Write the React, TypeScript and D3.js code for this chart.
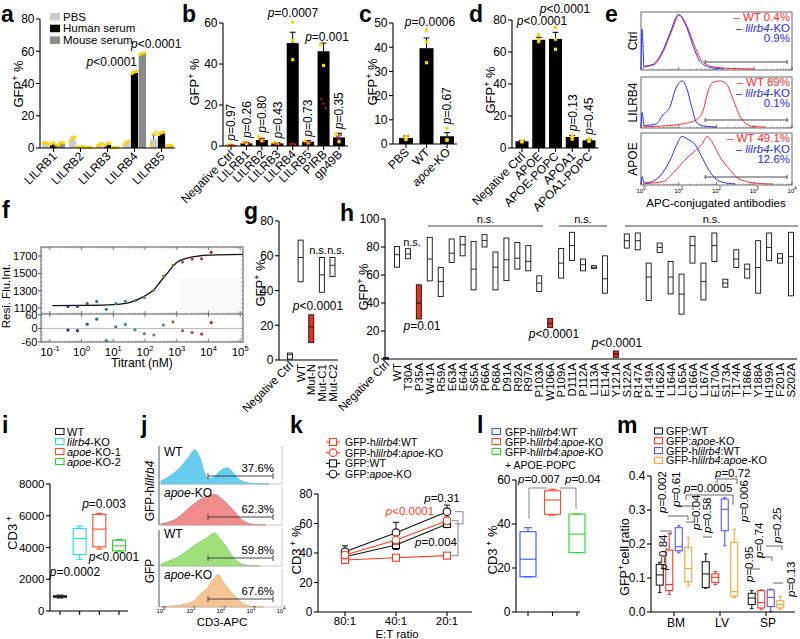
import React from 'react';
import * as d3 from 'd3';

const FONT = "'Liberation Sans', Arial, Helvetica, sans-serif";
const YEL = '#ffd400';
const AX = { stroke: '#000', strokeWidth: 1.1 };
const LETTER = 23;

// ===== a =====
const aCategories = ['LILRB1', 'LILRB2', 'LILRB3', 'LILRB4', 'LILRB5'];
const aSeries = ['PBS', 'Human serum', 'Mouse serum'];
const aPBS = [3, 5.4, 1.5, 3, 5.4];
const aHuman = [2, 0.5, 2, 46.7, 9.1];
const aMouse = [2.8, 0.5, 0.3, 58.3, 1.5];
const aPBSErr = [0.5, 1, 0.6, 0.8, 2.6];
const aHumanErr = [0.4, 0.2, 0.5, 0.8, 0.6];
const aMouseErr = [0.5, 0.2, 0.1, 0.5, 0.4];
const aPBSPts = [[3.2, 3.5, 2.6], [4.5, 6.5, 6.8], [1.2, 2.4, 2.8], [2.2, 3.6, 4.2], [2.2, 8.5, 10]];
const aHumanPts = [[2.5, 3.3, 1.9], [0.6, 0.4, 0.9], [1.6, 2.8, 3.1], [46.2, 47.1, 47.6], [8.4, 9.5, 10]];
const aMousePts = [[2.2, 3.4, 3.1], [0.3, 0.6, 0.2], [0.2, 0.5, 0.4], [58, 58.6, 59], [0.8, 1.6, 1.9]];
const aTicks = [0, 20, 40, 60, 80];

// ===== b =====
const bCategories = ['Negative Ctrl', 'LILRB1', 'LILRB2', 'LILRB3', 'LILRB4', 'LILRB5', 'PIRB', 'gp49B'];
const bValues = [0.3, 1.3, 2.9, 1.3, 50.2, 2.1, 46.2, 4.2];
const bErr = [0.2, 0.4, 0.8, 0.4, 5.3, 0.5, 4, 2];
const bYellow = [[0.5, 0.6], [1.8, 1.2], [4.5, 2.5], [1.6, 1.2], [60.4, 51.4, 42.1], [2.4, 1.5], [49.4, 39.3], [5.9, 2.1]];
const bRed = [[0.4, 0.5, 0.3], [1.5, 1.9, 1.0], [3.2, 3.6, 2.2], [1.3, 1.0, 0.8], [1.0, 1.1, 0.9], [1.7, 1.9, 1.4], [22.8, 20.6, 18.4], [4.6, 3.3, 5.2]];
const bP = ['p=0.97', 'p=0.26', 'p=0.80', 'p=0.43', 'p=0.0007', 'p=0.73', 'p=0.001', 'p=0.35'];
const bTicks = [0, 20, 40, 60];

// ===== c =====
const cCategories = ['PBS', 'WT', '*apoe*-KO'];
const cValues = [2.5, 39.6, 3.2];
const cErr = [0.8, 4.2, 1.5];
const cPts = [[3.2, 1.8, 2.6], [47.2, 42.1, 33.6], [6.5, 1.5, 1.8]];
const cP = ['', 'p=0.0006', 'p=0.67'];
const cTicks = [0, 10, 20, 30, 40, 50];

// ===== d =====
const dCategories = ['Negative Ctrl', 'APOE', 'APOE-POPC', 'APOA1', 'APOA1-POPC'];
const dValues = [4.2, 67.6, 68.2, 6.9, 4.8];
const dErr = [0.5, 1.6, 4.1, 1, 0.6];
const dPts = [[4.1, 3.8, 4.4], [70.7, 67.6, 66.5], [75.5, 68, 61.7], [7.5, 5.5, 6.3], [5.8, 4.2, 4.6]];
const dP = ['', 'p<0.0001', 'p<0.0001', 'p=0.13', 'p=0.45'];
const dTicks = [0, 20, 40, 60, 80];

// ===== e =====
const eRows = ['Ctrl', 'LILRB4', 'APOE'];
const eWTpct = ['0.4%', '89%', '49.1%'];
const eKOpct = ['0.9%', '0.1%', '12.6%'];
const eTicks = [0, 1, 2, 3, 4];
const eCtrlKO = [[0, 0], [0.03, 0.72], [0.08, 0.04], [0.33, 0.09], [0.59, 0.35], [0.77, 0.65], [0.99, 0.98], [1.21, 0.75], [1.39, 0.4], [1.56, 0.14], [1.83, 0.03], [2.2, 0]];
const eCtrlWT = [[0.05, 0], [0.1, 0.05], [0.35, 0.08], [0.6, 0.33], [0.8, 0.66], [1.02, 0.97], [1.24, 0.74], [1.42, 0.42], [1.6, 0.16], [1.9, 0.04], [2.4, 0.01], [3, 0]];
const eLILRB4KO = [[0, 0], [0.03, 0.3], [0.08, 0.03], [0.4, 0.06], [0.58, 0.25], [0.77, 0.42], [0.9, 0.75], [1.08, 0.95], [1.21, 0.8], [1.34, 0.42], [1.47, 0.1], [1.65, 0.02], [2, 0]];
const eLILRB4WT = [[0.05, 0], [0.3, 0.01], [0.77, 0.03], [1.2, 0.08], [1.47, 0.15], [1.65, 0.35], [1.78, 0.75], [1.91, 0.92], [2.09, 0.95], [2.27, 0.88], [2.45, 0.55], [2.62, 0.22], [2.8, 0.06], [2.97, 0.01], [3.3, 0]];
const eAPOEKO = [[0, 0], [0.03, 0.15], [0.08, 0.02], [0.3, 0.05], [0.5, 0.16], [0.77, 0.48], [0.95, 0.8], [1.08, 0.96], [1.25, 0.9], [1.43, 0.8], [1.61, 0.55], [1.78, 0.3], [1.96, 0.12], [2.14, 0.04], [2.5, 0]];
const eAPOEWT = [[0.05, 0], [0.3, 0.02], [0.6, 0.05], [0.86, 0.23], [1.21, 0.52], [1.43, 0.67], [1.61, 0.8], [1.76, 0.96], [1.92, 0.8], [2.09, 0.55], [2.31, 0.33], [2.53, 0.14], [2.8, 0.05], [3.15, 0.01], [3.5, 0]];

// ===== f =====
const fConc = [0.37, 0.74, 1.5, 3, 6, 12, 24, 48, 95, 190, 380, 760, 1525, 3050, 6100, 12200];
const fSignal = [1119, 1119, 1150, 1174, 1085, 1150, 1177, 1185, 1220, 1305, 1468, 1592, 1630, 1665, 1668, 1743];
const fResid = [-7, -10, 19, 41, -54, 7, 18, -6, -23, -29, 15, 29, -10, -18, -25, 26];
const fFitX = [0.12, 1, 10, 30, 100, 200, 300, 500, 800, 1000, 2000, 5000, 10000, 50000, 120000];
const fFitY = [1127, 1130, 1140, 1160, 1240, 1320, 1400, 1500, 1590, 1625, 1672, 1700, 1710, 1717, 1718];
const fTicksU = [1100, 1300, 1500, 1700];
const fTicksL = [-60, 0, 60];
const fDecades = [-1, 0, 1, 2, 3, 4, 5];

// ===== g =====
const gCategories = ['Negative Ctrl', 'WT', 'Mut-N', 'Mut-C1', 'Mut-C2'];
const gMin = [0.5, 45, 10, 39, 48];
const gMedian = [3, 59, 19, 49, 54.5];
const gMax = [4, 69, 26, 59, 59];
const gSignificant = ['Mut-N'];
const gTicks = [0, 20, 40, 60, 80];

// ===== h =====
const hCategories = ['Negative Ctrl', 'WT', 'T30A', 'P35A', 'W41A', 'R59A', 'E63A', 'E64A', 'S65A', 'P66A', 'P68A', 'D91A', 'R92A', 'R97A', 'P103A', 'W106A', 'P109A', 'D111A', 'P112A', 'L113A', 'E114A', 'Y121A', 'S122A', 'R147A', 'P149A', 'H162A', 'L164A', 'L165A', 'C166A', 'L167A', 'E170A', 'S173A', 'T174A', 'T186A', 'Y188A', 'H199A', 'F201A', 'S202A'];
const hMin = [0, 65.6, 71.6, 28.6, 55.8, 44.6, 69, 73.7, 49.4, 80, 49.4, 56, 64.2, 63, 48.2, 22.4, 57.8, 70.4, 63, 64.7, 47, 1.2, 79.2, 78, 41.8, 76.1, 46.5, 32, 68.5, 42.2, 69.7, 51.3, 65.4, 57.8, 47, 70.2, 68.5, 45.1];
const hMedian = [0.5, 74.5, 75, 39.9, 71.4, 55.4, 75.6, 81.6, 64.2, 84.7, 65.6, 70.9, 72, 69.7, 54.2, 25.5, 68.5, 81, 67.3, 65.6, 57.3, 3.6, 84.5, 84.5, 58.5, 79.7, 58.5, 46.3, 81, 55.4, 81, 54.2, 71.4, 64.2, 65.4, 79.7, 72, 73.3];
const hMax = [1, 80.4, 78.8, 53, 86.9, 65.4, 85.7, 87.6, 84, 88.8, 76.4, 86.4, 83.3, 81, 59.4, 29, 79, 90.5, 71.4, 66.6, 73.7, 5.7, 89.3, 90, 68.5, 82.8, 69.7, 60.6, 87.6, 68.5, 90, 57, 78, 67.8, 84.5, 90, 75.2, 90.5];
const hSignificant = ['P35A', 'W106A', 'Y121A'];
const hTicks = [0, 20, 40, 60, 80, 100];

// ===== i =====
const iGroups = ['WT', '*lilrb4*-KO', '*apoe*-KO-1', '*apoe*-KO-2'];
const iMin = [820, 3260, 3900, 3730];
const iQ1 = [860, 3560, 4040, 3790];
const iMed = [920, 4570, 5160, 4100];
const iQ3 = [960, 5200, 6080, 4460];
const iMax = [1000, 5350, 6150, 4500];
const iTicks = [0, 2000, 4000, 6000, 8000];

// ===== j =====
const jRows = ['WT', '*apoe*-KO', 'WT', '*apoe*-KO'];
const jPct = ['37.6%', '62.3%', '59.8%', '67.6%'];
const jHWT = [[0, 0.08], [0.3, 0.22], [0.63, 0.45], [0.9, 0.72], [1.13, 0.95], [1.3, 0.72], [1.47, 0.27], [1.63, 0.15], [1.8, 0.22], [2.03, 0.4], [2.2, 0.45], [2.37, 0.35], [2.57, 0.15], [2.8, 0.05], [3.13, 0.01], [3.6, 0]];
const jHKO = [[0, 0.03], [0.53, 0.18], [0.97, 0.5], [1.4, 0.75], [1.8, 0.85], [2.03, 0.72], [2.3, 0.5], [2.53, 0.3], [2.73, 0.12], [3.07, 0.02], [3.5, 0]];
const jWT = [[0, 0.05], [0.2, 0.12], [0.63, 0.28], [1.03, 0.52], [1.2, 0.62], [1.47, 0.75], [1.8, 0.92], [1.97, 0.75], [2.2, 0.5], [2.4, 0.25], [2.63, 0.08], [2.87, 0.02], [3.3, 0]];
const jKO = [[0, 0.01], [0.63, 0.05], [1.07, 0.15], [1.3, 0.35], [1.57, 0.55], [1.73, 0.75], [1.9, 0.9], [2.07, 0.7], [2.3, 0.45], [2.53, 0.25], [2.73, 0.1], [3.03, 0.02], [3.4, 0]];
const jTicks = [0, 1, 2, 3, 4];

// ===== k =====
const kRatios = ['80:1', '40:1', '20:1'];
const kHWT = [35.3, 36.8, 38.2];
const kHKO = [38.6, 48.8, 61.9];
const kWT = [37.5, 45.4, 59.7];
const kKO = [40.9, 53.8, 68];
const kHWTErr = [1.5, 1, 1];
const kHKOErr = [2, 3, 2.5];
const kWTErr = [2, 3, 2.5];
const kKOErr = [4, 7, 4.5];
const kTicks = [0, 20, 40, 60, 80];

// ===== l =====
const lGroups = ['GFP-h*lilrb4*:WT', 'GFP-h*lilrb4*:*apoe*-KO', 'GFP-h*lilrb4*:*apoe*-KO'];
const lMin = [16, 44, 27];
const lQ1 = [16, 44.4, 27];
const lMed = [24, 50.9, 35.4];
const lQ3 = [36.5, 55.1, 44.5];
const lMax = [38.3, 55.8, 44.5];
const lTicks = [0, 20, 40, 60];

// ===== m =====
const mTissues = ['BM', 'LV', 'SP'];
const mSeries = ['GFP:WT', 'GFP:*apoe*-KO', 'GFP-h*lilrb4*:WT', 'GFP-h*lilrb4*:*apoe*-KO'];
const mWT = [[0.057, 0.079, 0.109, 0.140, 0.146], [0.070, 0.072, 0.112, 0.148, 0.171], [0.010, 0.022, 0.041, 0.055, 0.063]];
const mKO = [[0.052, 0.063, 0.081, 0.182, 0.231], [0.081, 0.087, 0.102, 0.112, 0.119], [0.008, 0.012, 0.028, 0.063, 0.065]];
const mHWT = [[0.174, 0.180, 0.192, 0.248, 0.254], [0.195, 0.239, 0.302, 0.332, 0.336], [0.002, 0.016, 0.043, 0.065, 0.067]];
const mHKO = [[0.077, 0.089, 0.128, 0.190, 0.220], [0.043, 0.047, 0.060, 0.205, 0.243], [0.008, 0.012, 0.022, 0.033, 0.045]];
const mTicks = [0, 0.1, 0.2, 0.3, 0.4];

// ---------- helpers ----------
function Rich({ s }: { s: string }) {
  const parts = s.split('*');
  return <>{parts.map((p, i) => (i % 2 ? <tspan key={i} fontStyle="italic">{p}</tspan> : <tspan key={i}>{p}</tspan>))}</>;
}
function P({ s }: { s: string }) {
  return <><tspan fontStyle="italic">p</tspan><tspan>{s.slice(1)}</tspan></>;
}
function YAxis({ x, y, ticks, fmt, fs = 12, tick = 4 }: any) {
  const [r0, r1] = y.range();
  const f = fmt || ((d: number) => String(d));
  return (
    <g>
      <line x1={x} x2={x} y1={r0} y2={r1} {...AX} />
      {ticks.map((t: number) => (
        <g key={t}>
          <line x1={x - tick} x2={x} y1={y(t)} y2={y(t)} {...AX} />
          <text x={x - tick - 1.5} y={y(t)} dy="0.36em" textAnchor="end" fontSize={fs}>{f(t)}</text>
        </g>
      ))}
    </g>
  );
}
function VText({ x, y, anchor = 'middle', fs = 12, fill = '#000', children }: any) {
  return <text transform={`translate(${x},${y}) rotate(-90)`} textAnchor={anchor} fontSize={fs} fill={fill}>{children}</text>;
}
function DText({ x, y, fs = 12, children }: any) {
  return <text transform={`translate(${x},${y}) rotate(-45)`} textAnchor="end" fontSize={fs}>{children}</text>;
}
const gfpPct = <>GFP<tspan dy={-5} fontSize={9}>+</tspan><tspan dy={5}> %</tspan></>;
const cd3Pct = <>CD3<tspan dy={-5} fontSize={9}> +</tspan><tspan dy={5}> %</tspan></>;
function Pow({ x, y, e, fs = 12, sfs = 8 }: any) {
  return <text x={x} y={y} textAnchor="middle" fontSize={fs}>10<tspan dy={-fs * 0.42} fontSize={sfs}>{e}</tspan></text>;
}

// ---------- panels ----------
function PanelA() {
  const x0 = d3.scaleBand().domain(aCategories).range([40, 175]);
  const x1 = d3.scaleBand().domain(aSeries).range([2, 25]).paddingInner(0.08);
  const y = d3.scaleLinear().domain([0, 80]).range([148, 19]);
  const vals = [aPBS, aHuman, aMouse];
  const errs = [aPBSErr, aHumanErr, aMouseErr];
  const pts = [aPBSPts, aHumanPts, aMousePts];
  const cols = ['#cdcdcd', '#000', '#8a8a8a'];
  const bw = x1.bandwidth();
  return (
    <g>
      <text x={1} y={21.5} fontSize={LETTER} fontWeight="bold">a</text>
      {aCategories.map((c, i) => aSeries.map((s, j) => {
        const bx = (x0(c) as number) + (x1(s) as number);
        const cx = bx + bw / 2;
        const v = vals[j][i], e = errs[j][i];
        return (
          <g key={c + s}>
            <rect x={bx} y={y(v)} width={bw} height={y(0) - y(v)} fill={cols[j]} />
            <line x1={cx} x2={cx} y1={y(v)} y2={y(v + e)} stroke="#000" strokeWidth={0.8} />
            <line x1={cx - 2} x2={cx + 2} y1={y(v + e)} y2={y(v + e)} stroke="#000" strokeWidth={0.8} />
            {pts[j][i].map((p, k) => <circle key={k} cx={cx + (k - 1) * 2.4} cy={y(p)} r={1.7} fill={YEL} />)}
          </g>
        );
      }))}
      <YAxis x={40} y={y} ticks={aTicks} />
      <line x1={40} x2={175} y1={y(0)} y2={y(0)} {...AX} />
      {aCategories.map((c) => {
        const cx = (x0(c) as number) + x0.bandwidth() / 2;
        return (
          <g key={c}>
            <line x1={cx} x2={cx} y1={y(0)} y2={y(0) + 4} {...AX} />
            <DText x={cx + 4} y={y(0) + 9}>{c}</DText>
          </g>
        );
      })}
      <VText x={23} y={84} fs={13}>{gfpPct}</VText>
      {aSeries.map((s, j) => (
        <g key={s}>
          <rect x={50} y={13 + j * 11.7} width={10} height={7.5} fill={cols[j]} />
          <text x={63} y={20.5 + j * 11.7} fontSize={11.5}>{s}</text>
        </g>
      ))}
      <text x={137} y={66} textAnchor="end" fontSize={12}><P s="p<0.0001" /></text>
      <text x={131} y={48} fontSize={12}><P s="p<0.0001" /></text>
    </g>
  );
}

function BarPanel({ cats, vals, errs, yellow, red, pvals, ticks, domainMax, axisX, xr, bw, yr, letter, letterX, ylabX, ylabY, horiz }: any) {
  const x = d3.scalePoint().domain(cats).range(xr);
  const y = d3.scaleLinear().domain([0, domainMax]).range(yr);
  return (
    <g>
      <text x={letterX} y={21.5} fontSize={LETTER} fontWeight="bold">{letter}</text>
      {cats.map((c: string, i: number) => {
        const cx = x(c) as number;
        const v = vals[i], e = errs[i];
        const top = Math.max(v + e, ...(yellow[i] || []), ...((red && red[i]) || []));
        const ph = horiz[i];
        return (
          <g key={c}>
            <rect x={cx - bw / 2} y={y(v)} width={bw} height={y(0) - y(v)} fill="#000" />
            <line x1={cx} x2={cx} y1={y(v)} y2={y(v + e)} stroke="#000" strokeWidth={1} />
            <line x1={cx - 3} x2={cx + 3} y1={y(v + e)} y2={y(v + e)} stroke="#000" strokeWidth={1} />
            {(yellow[i] || []).map((p: number, k: number) => <rect key={k} x={cx - 1.6 + (k - 1) * 3 * (yellow[i].length > 2 ? 0 : 1)} y={y(p) - 1.6} width={3.2} height={3.2} fill={YEL} />)}
            {red ? red[i].map((p: number, k: number) => <circle key={'r' + k} cx={cx + (k - 1) * 2.2} cy={y(p)} r={1} fill="#ff1a1a" />) : null}
            {pvals[i] && !ph ? <VText x={cx + 4.3} y={y(top) - 4} anchor="start" fs={12}><P s={pvals[i]} /></VText> : null}
            {pvals[i] && ph ? <text x={ph[0]} y={ph[1]} textAnchor="middle" fontSize={12}><P s={pvals[i]} /></text> : null}
          </g>
        );
      })}
      <YAxis x={axisX} y={y} ticks={ticks} />
      <line x1={axisX} x2={xr[1] + bw / 2 + 3} y1={y(0)} y2={y(0)} {...AX} />
      {cats.map((c: string) => {
        const cx = x(c) as number;
        return (
          <g key={c}>
            <line x1={cx} x2={cx} y1={y(0)} y2={y(0) + 4} {...AX} />
            <DText x={cx + 4} y={y(0) + 9}><Rich s={c} /></DText>
          </g>
        );
      })}
      <VText x={ylabX} y={ylabY} fs={13}>{gfpPct}</VText>
    </g>
  );
}

function PanelE() {
  const x = d3.scaleLinear().domain([0, 4]).range([641, 792]);
  const rows = [[12, 70], [77, 128], [133, 185]];
  const ko = [eCtrlKO, eLILRB4KO, eAPOEKO];
  const wt = [eCtrlWT, eLILRB4WT, eAPOEWT];
  const RED = '#ff2a2a', BLUE = '#2a2aff';
  const minors: number[] = [];
  [0, 1, 2, 3].forEach((d) => [2, 3, 4, 5, 6, 7, 8, 9].forEach((k) => minors.push(d + Math.log10(k))));
  return (
    <g>
      <text x={605} y={21.5} fontSize={LETTER} fontWeight="bold">e</text>
      {rows.map(([t, b], r) => {
        const y = d3.scaleLinear().domain([0, 1]).range([b - 1, t + 1.5]);
        const line = d3.line().x((d: any) => x(d[0])).y((d: any) => y(d[1])).curve(d3.curveMonotoneX);
        const gy = b - 8;
        return (
          <g key={r}>
            <rect x={641} y={t} width={151} height={b - t} fill="#fff" stroke="#444" strokeWidth={0.8} />
            <path d={line(wt[r] as any) || ''} fill="none" stroke={RED} strokeWidth={1} />
            <path d={line(ko[r] as any) || ''} fill="none" stroke={BLUE} strokeWidth={1} />
            <line x1={x(1.7)} x2={x(3.87)} y1={gy} y2={gy} stroke="#333" strokeWidth={0.9} />
            <line x1={x(1.7)} x2={x(1.7)} y1={gy - 2} y2={gy + 2} stroke="#333" strokeWidth={0.9} />
            <line x1={x(3.87)} x2={x(3.87)} y1={gy - 2} y2={gy + 2} stroke="#333" strokeWidth={0.9} />
            {eTicks.map((d) => <line key={d} x1={x(d)} x2={x(d)} y1={b} y2={b - 3} stroke="#444" strokeWidth={0.7} />)}
            {minors.map((d, k) => <line key={'m' + k} x1={x(d)} x2={x(d)} y1={b} y2={b - 1.5} stroke="#444" strokeWidth={0.5} />)}
            <text x={790} y={t + 9} textAnchor="end" fontSize={11.5} fill={RED}>– WT {eWTpct[r]}</text>
            <text x={790} y={t + 19.5} textAnchor="end" fontSize={11.5} fill={BLUE}>– <tspan fontStyle="italic">lilrb4</tspan>-KO</text>
            <text x={790} y={t + 30} textAnchor="end" fontSize={11.5} fill={BLUE}>{eKOpct[r]}</text>
            <VText x={636.5} y={(t + b) / 2} fs={12}>{eRows[r]}</VText>
          </g>
        );
      })}
      {eTicks.map((d) => <Pow key={d} x={x(d)} y={193} e={d} fs={6} sfs={4.5} />)}
      <text x={716} y={207} textAnchor="middle" fontSize={11.5}>APC-conjugated antibodies</text>
    </g>
  );
}

function PanelF() {
  const x = d3.scaleLog().domain([Math.pow(10, -1.28), Math.pow(10, 5.09)]).range([41, 243]);
  const yU = d3.scaleLinear().domain([1031, 1804]).range([314, 247]);
  const yL = d3.scaleLinear().domain([-60, 64]).range([342, 314]);
  const color = d3.scaleSequential(d3.interpolateRgbBasis(['#3a1e9a', '#2a5fb0', '#2a8f9a', '#3f9a6a', '#7f8a4a', '#a05a3a', '#c81818'])).domain([0, fConc.length - 1]);
  const fit = fFitX.map((v, i) => [v, fFitY[i]]);
  const line = d3.line().x((d: any) => x(d[0])).y((d: any) => yU(d[1])).curve(d3.curveMonotoneX);
  const minors: number[] = [];
  [-2, -1, 0, 1, 2, 3, 4, 5].forEach((d) => [2, 3, 4, 5, 6, 7, 8, 9].forEach((k) => {
    const v = k * Math.pow(10, d);
    if (v > Math.pow(10, -1.28) && v < Math.pow(10, 5.09)) minors.push(v);
  }));
  const uMin = d3.range(1050, 1800, 50);
  const lMin = d3.range(-60, 64, 15);
  return (
    <g>
      <text x={2} y={218} fontSize={LETTER} fontWeight="bold">f</text>
      <rect x={181} y={277} width={61} height={36} fill="#f9f9f9" />
      <rect x={41} y={247} width={202} height={95} fill="none" stroke="#555" strokeWidth={1} />
      <line x1={41} x2={243} y1={314} y2={314} stroke="#555" strokeWidth={1} />
      <line x1={41} x2={243} y1={yL(0)} y2={yL(0)} stroke="#aaa" strokeWidth={0.8} />
      {fDecades.map((d) => {
        const px = x(Math.pow(10, d));
        return (
          <g key={d}>
            {[247, 314].map((yy) => <line key={yy} x1={px} x2={px} y1={yy} y2={yy + 3} stroke="#555" strokeWidth={0.8} />)}
            {[314, 342].map((yy) => <line key={'b' + yy} x1={px} x2={px} y1={yy} y2={yy - 3} stroke="#555" strokeWidth={0.8} />)}
            <Pow x={px} y={356} e={d} fs={11.5} sfs={7.5} />
          </g>
        );
      })}
      {minors.map((v, k) => (
        <g key={k}>
          <line x1={x(v)} x2={x(v)} y1={247} y2={248.5} stroke="#777" strokeWidth={0.5} />
          <line x1={x(v)} x2={x(v)} y1={342} y2={340.5} stroke="#777" strokeWidth={0.5} />
          <line x1={x(v)} x2={x(v)} y1={314} y2={312.5} stroke="#777" strokeWidth={0.5} />
        </g>
      ))}
      {uMin.map((v) => <g key={v}><line x1={41} x2={43} y1={yU(v)} y2={yU(v)} stroke="#777" strokeWidth={0.5} /><line x1={243} x2={241} y1={yU(v)} y2={yU(v)} stroke="#777" strokeWidth={0.5} /></g>)}
      {lMin.map((v) => <g key={v}><line x1={41} x2={43} y1={yL(v)} y2={yL(v)} stroke="#777" strokeWidth={0.5} /><line x1={243} x2={241} y1={yL(v)} y2={yL(v)} stroke="#777" strokeWidth={0.5} /></g>)}
      {fTicksU.map((t) => (
        <g key={t}>
          <line x1={38} x2={41} y1={yU(t)} y2={yU(t)} stroke="#555" />
          <text x={37.5} y={yU(t)} dy="0.36em" textAnchor="end" fontSize={11}>{t}</text>
        </g>
      ))}
      {fTicksL.map((t) => (
        <g key={t}>
          <line x1={38} x2={41} y1={yL(t)} y2={yL(t)} stroke="#555" />
          <text x={37.5} y={yL(t)} dy="0.36em" textAnchor="end" fontSize={11}>{t}</text>
        </g>
      ))}
      <path d={line(fit as any) || ''} fill="none" stroke="#111" strokeWidth={1.3} />
      {fConc.map((c, i) => <circle key={i} cx={x(c)} cy={yU(fSignal[i])} r={1.6} fill={color(i)} />)}
      {fConc.map((c, i) => <circle key={'r' + i} cx={x(c)} cy={yL(fResid[i])} r={1.6} fill={color(i)} />)}
      <text x={142} y={367} textAnchor="middle" fontSize={12}>Titrant (nM)</text>
      <VText x={9.5} y={296} fs={11.5}>Resi.  Flu.Int.</VText>
    </g>
  );
}

function FloatBars({ cats, mins, meds, maxs, sig, xr, yScale, bw }: any) {
  const x = d3.scalePoint().domain(cats).range(xr);
  return (
    <g>
      {cats.map((c: string, i: number) => {
        const cx = x(c) as number;
        const red = sig.includes(c);
        const h = Math.max(yScale(mins[i]) - yScale(maxs[i]), 1.5);
        return (
          <g key={c}>
            <rect x={cx - bw / 2} y={yScale(maxs[i])} width={bw} height={h} fill={red ? '#e8321c' : '#fff'} stroke="#111" strokeWidth={0.9} />
            <line x1={cx - bw / 2} x2={cx + bw / 2} y1={yScale(meds[i])} y2={yScale(meds[i])} stroke="#111" strokeWidth={0.9} />
          </g>
        );
      })}
    </g>
  );
}

function CatLabels({ cats, xr, y0 }: any) {
  const x = d3.scalePoint().domain(cats).range(xr);
  return (
    <g>
      {cats.map((c: string, i: number) => {
        const cx = x(c) as number;
        return i === 0
          ? <DText key={c} x={cx + 4} y={y0 + 6} fs={11.5}>{c}</DText>
          : <VText key={c} x={cx + 4.2} y={y0 + 4} anchor="end" fs={11.5}>{c}</VText>;
      })}
    </g>
  );
}

function PanelG() {
  const y = d3.scaleLinear().domain([0, 80]).range([360, 221]);
  const xr = [290, 332.5];
  return (
    <g>
      <text x={244} y={219} fontSize={LETTER} fontWeight="bold">g</text>
      <FloatBars cats={gCategories} mins={gMin} meds={gMedian} maxs={gMax} sig={gSignificant} xr={xr} yScale={y} bw={5} />
      <YAxis x={279} y={y} ticks={gTicks} />
      <line x1={279} x2={338} y1={360} y2={360} {...AX} />
      <CatLabels cats={gCategories} xr={xr} y0={360} />
      <VText x={265} y={283} fs={13}>{gfpPct}</VText>
      <text x={318} y={254} textAnchor="middle" fontSize={11}>n.s.</text>
      <text x={336} y={254} textAnchor="middle" fontSize={11}>n.s.</text>
      <text x={318} y={310} textAnchor="middle" fontSize={12}><P s="p<0.0001" /></text>
    </g>
  );
}

function PanelH() {
  const y = d3.scaleLinear().domain([0, 100]).range([359, 219]);
  const xr = [386, 791];
  return (
    <g>
      <text x={340} y={221} fontSize={LETTER} fontWeight="bold">h</text>
      <FloatBars cats={hCategories} mins={hMin} meds={hMedian} maxs={hMax} sig={hSignificant} xr={xr} yScale={y} bw={5} />
      <YAxis x={385} y={y} ticks={hTicks} />
      <line x1={385} x2={797} y1={359} y2={359} {...AX} />
      <CatLabels cats={hCategories} xr={xr} y0={359} />
      <VText x={368} y={287} fs={13}>{gfpPct}</VText>
      <text x={412} y={246} textAnchor="middle" fontSize={11}>n.s.</text>
      {[[428, 543], [559, 607], [625, 798]].map(([a, b]) => (
        <g key={a}>
          <line x1={a} x2={b} y1={226} y2={226} stroke="#333" strokeWidth={0.9} />
          <text x={(a + b) / 2} y={222.5} textAnchor="middle" fontSize={11}>n.s.</text>
        </g>
      ))}
      <text x={422} y={330} textAnchor="middle" fontSize={12}><P s="p=0.01" /></text>
      <text x={554} y={338} textAnchor="middle" fontSize={12}><P s="p<0.0001" /></text>
      <text x={617} y={347} textAnchor="middle" fontSize={12}><P s="p<0.0001" /></text>
    </g>
  );
}

function Box({ cx, w, y, s, color }: any) {
  const [mn, q1, md, q3, mx] = s;
  return (
    <g stroke={color} strokeWidth={1.1} fill="none">
      <rect x={cx - w / 2} y={y(q3)} width={w} height={Math.max(y(q1) - y(q3), 0.5)} />
      <line x1={cx - w / 2} x2={cx + w / 2} y1={y(md)} y2={y(md)} />
      <line x1={cx} x2={cx} y1={y(q3)} y2={y(mx)} />
      <line x1={cx} x2={cx} y1={y(q1)} y2={y(mn)} />
      <line x1={cx - w / 4} x2={cx + w / 4} y1={y(mx)} y2={y(mx)} />
      <line x1={cx - w / 4} x2={cx + w / 4} y1={y(mn)} y2={y(mn)} />
    </g>
  );
}

function PanelI() {
  const x = d3.scalePoint().domain(iGroups).range([60, 119]);
  const y = d3.scaleLinear().domain([0, 8000]).range([611, 484]);
  const cols = ['#222', '#22dde8', '#ff4a2a', '#2ad52a'];
  return (
    <g>
      <text x={2} y={433} fontSize={LETTER} fontWeight="bold">i</text>
      {iGroups.map((g, i) => (
        <g key={g}>
          <rect x={55.5} y={428.5 + i * 10} width={8.5} height={6} fill="none" stroke={cols[i]} strokeWidth={1.1} />
          <text x={67} y={436 + i * 10} fontSize={11}><Rich s={g} /></text>
          <Box cx={x(g)} w={13} y={y} s={[iMin[i], iQ1[i], iMed[i], iQ3[i], iMax[i]]} color={cols[i]} />
        </g>
      ))}
      <YAxis x={50} y={y} ticks={iTicks} fs={11.5} />
      <line x1={50} x2={128} y1={611} y2={611} {...AX} />
      {iGroups.map((g) => <line key={g} x1={x(g)} x2={x(g)} y1={611} y2={615} {...AX} />)}
      <VText x={17} y={533} fs={13}>CD3<tspan dy={-5} fontSize={9}> +</tspan></VText>
      <text x={75} y={576} textAnchor="middle" fontSize={12}><P s="p=0.0002" /></text>
      <text x={104} y={508} textAnchor="middle" fontSize={12}><P s="p=0.003" /></text>
      <text x={114} y={561} textAnchor="middle" fontSize={12}><P s="p<0.0001" /></text>
    </g>
  );
}

function PanelJ() {
  const x = d3.scaleLinear().domain([0, 4]).range([161, 281]);
  const tops = [446, 487, 528, 569];
  const hgt = 38;
  const data = [jHWT, jHKO, jWT, jKO];
  const fills = ['#66cdee', '#f28b8b', '#9ee07a', '#f7c595'];
  const strokes = ['#52bde0', '#e06d6d', '#84cc60', '#eaa86f'];
  return (
    <g>
      <text x={141} y={433} fontSize={LETTER} fontWeight="bold">j</text>
      {tops.map((t, r) => {
        const b = t + hgt;
        const y = d3.scaleLinear().domain([0, 1]).range([b, t + 2]);
        const area = d3.area().x((d: any) => x(d[0])).y0(b).y1((d: any) => y(d[1])).curve(d3.curveMonotoneX);
        const gy = b - 8;
        return (
          <g key={r}>
            <path d={area(data[r] as any) || ''} fill={fills[r]} stroke={strokes[r]} strokeWidth={0.8} />
            <line x1={159} x2={282} y1={b} y2={b} stroke="#bbb" strokeWidth={0.8} />
            <line x1={282} x2={282} y1={t} y2={b} stroke="#bbb" strokeWidth={0.8} />
            <line x1={208} x2={273} y1={gy} y2={gy} stroke="#333" strokeWidth={0.9} />
            <line x1={208} x2={208} y1={gy - 3} y2={gy + 3} stroke="#333" strokeWidth={0.9} />
            <line x1={273} x2={273} y1={gy - 3} y2={gy + 3} stroke="#333" strokeWidth={0.9} />
            <text x={274} y={gy - 4.5} textAnchor="end" fontSize={11.5}>{jPct[r]}</text>
            <text x={164} y={t + 10} fontSize={12}><Rich s={jRows[r]} /></text>
          </g>
        );
      })}
      <line x1={159} x2={159} y1={446} y2={525} stroke="#555" strokeWidth={1} />
      <line x1={159} x2={159} y1={530} y2={607} stroke="#555" strokeWidth={1} />
      {jTicks.map((d) => <Pow key={d} x={x(d)} y={613} e={d} fs={6} sfs={4.5} />)}
      <text x={222} y={626} textAnchor="middle" fontSize={11.5}>CD3-APC</text>
      <VText x={154} y={491} fs={12}>GFP-h<tspan fontStyle="italic">lilrb4</tspan></VText>
      <VText x={154} y={571} fs={12}>GFP</VText>
    </g>
  );
}

function Marker({ shape, cx, cy, color }: any) {
  return shape === 'sq'
    ? <rect x={cx - 3.5} y={cy - 3.5} width={7} height={7} fill="#fff" stroke={color} strokeWidth={1.1} />
    : <circle cx={cx} cy={cy} r={3.8} fill="#fff" stroke={color} strokeWidth={1.1} />;
}

function PanelK() {
  const x = d3.scalePoint().domain(kRatios).range([345, 447]);
  const y = d3.scaleLinear().domain([0, 80]).range([612, 494]);
  const RED = '#ff3b1f';
  const series = [
    { name: 'GFP-h*lilrb4*:WT', v: kHWT, e: kHWTErr, c: RED, s: 'sq' },
    { name: 'GFP-h*lilrb4*:*apoe*-KO', v: kHKO, e: kHKOErr, c: RED, s: 'ci' },
    { name: 'GFP:WT', v: kWT, e: kWTErr, c: '#111', s: 'sq' },
    { name: 'GFP:*apoe*-KO', v: kKO, e: kKOErr, c: '#111', s: 'ci' },
  ];
  const line = d3.line().x((d: any) => d[0]).y((d: any) => d[1]);
  return (
    <g>
      <text x={290} y={433} fontSize={LETTER} fontWeight="bold">k</text>
      {series.map((s, i) => (
        <g key={s.name}>
          <line x1={326} x2={340} y1={442 + i * 10.7} y2={442 + i * 10.7} stroke={s.c} strokeWidth={1.1} />
          <Marker shape={s.s} cx={333} cy={442 + i * 10.7} color={s.c} />
          <text x={345} y={446 + i * 10.7} fontSize={10.5}><Rich s={s.name} /></text>
        </g>
      ))}
      {[2, 3, 0, 1].map((si) => {
        const s = series[si];
        const pts = kRatios.map((r, i) => [x(r) as number, y(s.v[i])]);
        return (
          <g key={si}>
            <path d={line(pts as any) || ''} fill="none" stroke={s.c} strokeWidth={1.1} />
            {kRatios.map((r, i) => (
              <g key={r} stroke={s.c} strokeWidth={1}>
                <line x1={x(r)} x2={x(r)} y1={y(s.v[i] - s.e[i])} y2={y(s.v[i] + s.e[i])} />
                <line x1={(x(r) as number) - 3} x2={(x(r) as number) + 3} y1={y(s.v[i] + s.e[i])} y2={y(s.v[i] + s.e[i])} />
                <line x1={(x(r) as number) - 3} x2={(x(r) as number) + 3} y1={y(s.v[i] - s.e[i])} y2={y(s.v[i] - s.e[i])} />
              </g>
            ))}
            {pts.map((p, i) => <Marker key={i} shape={s.s} cx={p[0]} cy={p[1]} color={s.c} />)}
          </g>
        );
      })}
      <YAxis x={318} y={y} ticks={kTicks} fs={12} />
      <line x1={318} x2={472} y1={612} y2={612} {...AX} />
      {kRatios.map((r) => (
        <g key={r}>
          <line x1={x(r)} x2={x(r)} y1={612} y2={616} {...AX} />
          <text x={x(r)} y={625} textAnchor="middle" fontSize={11.5}>{r}</text>
        </g>
      ))}
      <text x={397} y={638} textAnchor="middle" fontSize={11.5}>E:T ratio</text>
      <VText x={301} y={550} fs={13}>{cd3Pct}</VText>
      <path d={`M455,${y(kKO[2])}H463V${y(kWT[2])}H455`} fill="none" stroke="#777" strokeWidth={0.9} />
      <path d={`M452,${y(kHKO[2])}H458V${y(kHWT[2])}H452`} fill="none" stroke="#777" strokeWidth={0.9} />
      <text x={442} y={502} textAnchor="middle" fontSize={11.5}><P s="p=0.31" /></text>
      <text x={410} y={515} textAnchor="middle" fontSize={11.5} fill={RED}><P s="p<0.0001" /></text>
      <text x={436} y={546} textAnchor="middle" fontSize={11.5}><P s="p=0.004" /></text>
    </g>
  );
}

function PanelL() {
  const x = d3.scalePoint().domain(['0', '1', '2']).range([528, 577]);
  const y = d3.scaleLinear().domain([0, 60]).range([612, 480]);
  const cols = ['#3355ff', '#ff4a2a', '#2ad52a'];
  return (
    <g>
      <text x={477} y={433} fontSize={LETTER} fontWeight="bold">l</text>
      {lGroups.map((g, i) => (
        <g key={i}>
          <rect x={492} y={428.5 + i * 10} width={8.5} height={6} fill="none" stroke={cols[i]} strokeWidth={1.1} />
          <text x={505} y={436 + i * 10} fontSize={10.5}><Rich s={g} /></text>
          <Box cx={x(String(i))} w={16} y={y} s={[lMin[i], lQ1[i], lMed[i], lQ3[i], lMax[i]]} color={cols[i]} />
        </g>
      ))}
      <text x={505} y={469} fontSize={10.5}>+ APOE-POPC</text>
      <YAxis x={516} y={y} ticks={lTicks} fs={12} />
      <line x1={516} x2={580} y1={612} y2={612} {...AX} />
      {['0', '1', '2'].map((k) => <line key={k} x1={x(k)} x2={x(k)} y1={612} y2={616} {...AX} />)}
      <VText x={497} y={550} fs={13}>{cd3Pct}</VText>
      <path d="M529,519V488H547" fill="none" stroke="#777" strokeWidth={0.9} />
      <path d="M560,488H576V509" fill="none" stroke="#777" strokeWidth={0.9} />
      <text x={518} y={483} fontSize={11.5}><P s="p=0.007" /></text>
      <text x={565} y={483} fontSize={11.5}><P s="p=0.04" /></text>
    </g>
  );
}

function PanelM() {
  const x0 = d3.scaleBand().domain(mTissues).range([651, 789]);
  const x1 = d3.scaleBand().domain(mSeries).range([4, 42]);
  const y = d3.scaleLinear().domain([0, 0.4]).range([612, 476]);
  const cols = ['#222', '#ff3a22', '#5555ff', '#ffa033'];
  const data = [mWT, mKO, mHWT, mHKO];
  const rotP = [
    ['p=0.84', 667, 570], ['p=0.002', 666, 513], ['p=0.61', 680, 507], ['p=0.04', 700, 530],
    ['p=0.58', 711, 533], ['p=0.006', 748, 522], ['p=0.95', 753, 582], ['p=0.74', 763, 558],
    ['p=0.25', 781, 543], ['p=0.13', 795, 597],
  ];
  const brackets = [
    'M660,531H671V535', 'M668,516H688V520', 'M676,506H693V510', 'M686,522H694',
    'M686,500V495H733V505', 'M717,483V479H737V484', 'M703,537H712',
    'M750,569H760', 'M757,557H772V561', 'M766,546H782V550', 'M773,583H783',
  ];
  return (
    <g>
      <text x={617} y={433} fontSize={LETTER} fontWeight="bold">m</text>
      {mSeries.map((s, i) => (
        <g key={s}>
          <rect x={654.5} y={428 + i * 9.8} width={8} height={6} fill="none" stroke={cols[i]} strokeWidth={1.1} />
          <text x={666} y={435 + i * 9.8} fontSize={10.8}><Rich s={s} /></text>
        </g>
      ))}
      {mTissues.map((t, ti) => mSeries.map((s, si) => (
        <Box key={t + s} cx={(x0(t) as number) + (x1(s) as number) + x1.bandwidth() / 2} w={7} y={y} s={data[si][ti]} color={cols[si]} />
      )))}
      {brackets.map((d, i) => <path key={i} d={d} fill="none" stroke="#555" strokeWidth={0.9} />)}
      <YAxis x={651} y={y} ticks={mTicks} fs={12} fmt={(d: number) => d.toFixed(1)} />
      <line x1={651} x2={795} y1={612} y2={612} {...AX} />
      {mTissues.map((t) => {
        const cx = (x0(t) as number) + x0.bandwidth() / 2;
        return (
          <g key={t}>
            <line x1={cx} x2={cx} y1={612} y2={616} {...AX} />
            <text x={cx + 2} y={627} textAnchor="middle" fontSize={12}>{t}</text>
          </g>
        );
      })}
      <VText x={629} y={557} fs={12.5}>GFP<tspan dy={-5} fontSize={9}>+</tspan><tspan dy={5}>cell ratio</tspan></VText>
      {rotP.map(([s, px, py]) => <VText key={s as string} x={px} y={py} anchor="start" fs={11.5}><P s={s as string} /></VText>)}
      <text x={684} y={492} fontSize={11.5}><P s="p=0.0005" /></text>
      <text x={715} y={477} fontSize={11.5}><P s="p=0.72" /></text>
    </g>
  );
}

export default function App() {
  return (
    <svg width={800} height={639} viewBox="0 0 800 639" fontFamily={FONT}
      style={{ position: 'absolute', left: 0, top: 0, background: '#fff' }}>
      <rect width={800} height={639} fill="#fff" />
      <PanelA />
      <BarPanel cats={bCategories} vals={bValues} errs={bErr} yellow={bYellow} red={bRed} pvals={bP} ticks={bTicks}
        domainMax={60} axisX={223} xr={[231, 339]} bw={12} yr={[146, 23]} letter="b" letterX={182} ylabX={199} ylabY={82}
        horiz={[null, null, null, null, [293, 17], null, [327, 41], null]} />
      <BarPanel cats={cCategories} vals={cValues} errs={cErr} yellow={cPts} red={null} pvals={cP} ticks={cTicks}
        domainMax={50} axisX={393} xr={[406, 447]} bw={14} yr={[144, 23]} letter="c" letterX={359} ylabX={377} ylabY={82}
        horiz={[null, [430, 26], null]} />
      <BarPanel cats={dCategories} vals={dValues} errs={dErr} yellow={dPts} red={null} pvals={dP} ticks={dTicks}
        domainMax={80} axisX={512} xr={[522, 589]} bw={13} yr={[148, 20]} letter="d" letterX={469} ylabX={495} ylabY={90}
        horiz={[null, [542, 25], [565, 13], null, null]} />
      <PanelE />
      <PanelF />
      <PanelG />
      <PanelH />
      <PanelI />
      <PanelJ />
      <PanelK />
      <PanelL />
      <PanelM />
    </svg>
  );
}
